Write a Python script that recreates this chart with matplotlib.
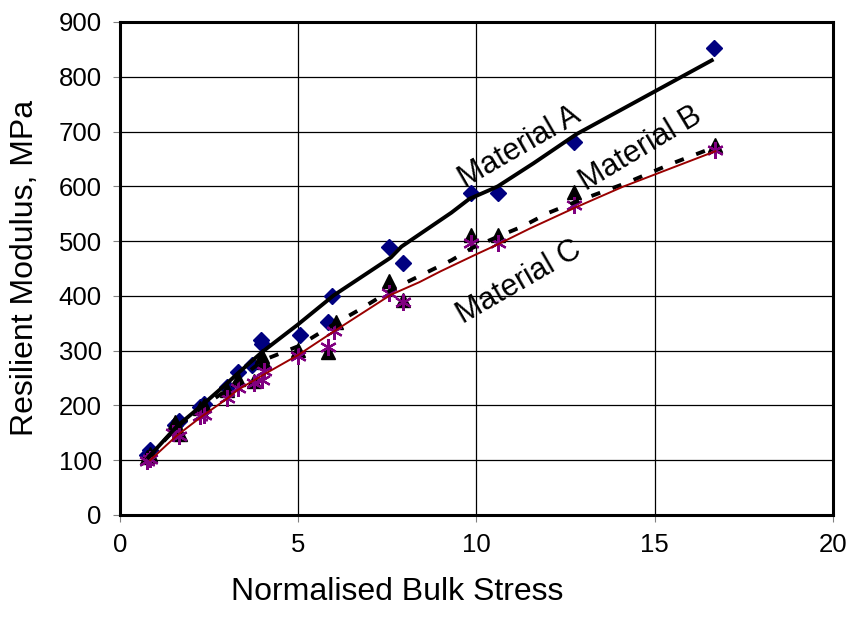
import matplotlib.pyplot as plt

plt.rcParams['font.family'] = ['Liberation Sans', 'DejaVu Sans']

a_x = [0.75, 0.85, 1.55, 1.65, 2.25, 2.35, 3.0, 3.3, 3.7, 3.95, 4.0, 5.05, 5.85, 5.95, 7.55, 7.95, 9.85, 10.6, 12.75, 16.65]
a_y = [110, 118, 165, 172, 198, 203, 234, 261, 274, 320, 312, 328, 352, 400, 489, 460, 588, 588, 681, 852]

b_x = [0.75, 0.85, 1.55, 1.7, 2.25, 2.35, 3.0, 3.3, 3.75, 4.0, 4.05, 5.0, 5.85, 6.05, 7.55, 7.95, 9.85, 10.6, 12.75, 16.7]
b_y = [105, 112, 170, 148, 195, 200, 228, 248, 245, 290, 280, 301, 297, 352, 427, 392, 511, 511, 590, 675]

c_x = [0.75, 0.85, 1.5, 1.65, 2.25, 2.35, 3.0, 3.3, 3.75, 4.0, 4.05, 5.0, 5.85, 6.0, 7.55, 7.95, 9.85, 10.6, 12.75, 16.7]
c_y = [98, 103, 150, 145, 180, 183, 213, 232, 240, 247, 262, 290, 306, 336, 405, 388, 496, 496, 566, 667]

# model curves
fit_a_x = [0.8, 1.6, 2.3, 3.0, 3.3, 4.0, 5.0, 6.0, 7.6, 7.9, 9.3, 9.8, 10.4, 10.6, 11.6, 12.8, 16.6]
fit_a_y = [105, 162, 200, 240, 258, 298, 348, 401, 470, 490, 552, 577, 594, 600, 642, 695, 830]

fit_b_x = [0.8, 1.6, 2.3, 3.0, 3.3, 4.0, 5.0, 6.0, 6.7, 7.6, 8.05, 9.3, 9.9, 10.6, 11.3, 12.0, 12.8, 14.2, 15.5, 16.7]
fit_b_y = [105, 160, 197, 228, 245, 282, 308, 348, 374, 410, 425, 465, 488, 508, 527, 551, 572, 606, 642, 672]

fit_c_x = [0.85, 1.6, 2.3, 3.0, 3.3, 4.0, 5.0, 6.0, 7.6, 8.4, 9.0, 10.0, 10.6, 11.5, 12.8, 14.1, 15.1, 16.7]
fit_c_y = [100, 145, 180, 212, 228, 255, 292, 335, 402, 425, 445, 476, 494, 523, 562, 599, 624, 664]

fig = plt.figure(figsize=(8.5, 6.28), dpi=100)
ax = fig.add_axes([0.141, 0.18, 0.839, 0.785])

ax.plot(a_x, a_y, linestyle='none', marker='D', markersize=8.5, color='#000080', zorder=3)
ax.plot(b_x, b_y, linestyle='none', marker='^', markersize=9.5, color='black', zorder=3)
ax.plot(c_x, c_y, linestyle='none', marker=(6, 2, 0), markersize=12, markeredgewidth=1.6,
        color='#800080', zorder=4)

ax.plot(fit_a_x, fit_a_y, color='black', linewidth=2.8, zorder=5)
ax.plot(fit_b_x, fit_b_y, color='black', linewidth=2.8, dashes=(2.4, 3.4), zorder=5)
ax.plot(fit_c_x, fit_c_y, color='#990000', linewidth=1.4, zorder=5)

ax.text(11.2, 672, 'Material A', rotation=30, ha='center', va='center', fontsize=22)
ax.text(14.6, 668, 'Material B', rotation=31, ha='center', va='center', fontsize=22)
ax.text(11.2, 425, 'Material C', rotation=30, ha='center', va='center', fontsize=22)

ax.set_xlim(0, 20)
ax.set_ylim(0, 900)
ax.set_xticks([0, 5, 10, 15, 20])
ax.set_yticks(range(0, 901, 100))
ax.grid(True, color='black', linewidth=0.9)
ax.set_axisbelow(True)
ax.tick_params(direction='out', length=5, color='gray', labelsize=18.5, pad=8)
for s in ax.spines.values():
    s.set_linewidth(2.2)
    s.set_color('black')

fig.text(0.467, 0.057, 'Normalised Bulk Stress', ha='center', va='center', fontsize=23)
fig.text(0.03, 0.573, 'Resilient Modulus, MPa', ha='center', va='center', rotation=90, fontsize=23)

fig.savefig('out.png', dpi=100)
